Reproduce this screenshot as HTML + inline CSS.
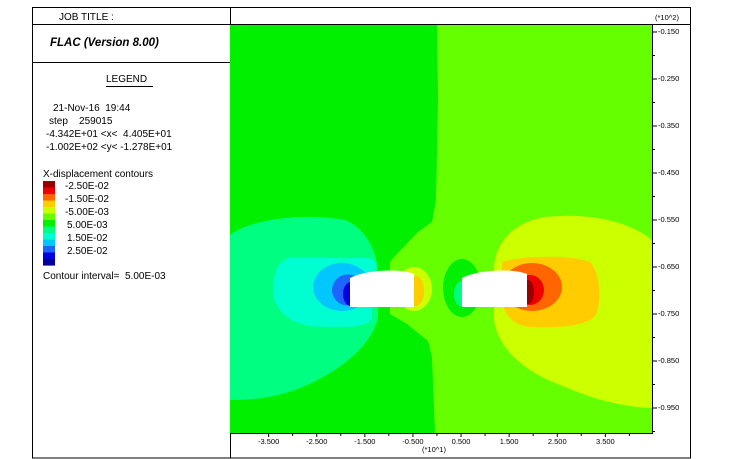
<!DOCTYPE html>
<html><head><meta charset="utf-8"><style>
body{margin:0;background:#fff;width:750px;height:459px;overflow:hidden;font-family:"Liberation Sans",sans-serif}
svg{position:absolute;left:0;top:0}
text{white-space:pre}
</style></head><body>
<svg width="750" height="459" font-family="Liberation Sans, sans-serif">
<g fill="none" stroke="#000" stroke-width="1">
<rect x="32.5" y="7.5" width="658" height="450.5"/>
<line x1="32" y1="24.5" x2="690" y2="24.5"/>
<line x1="230.5" y1="7" x2="230.5" y2="458"/>
<line x1="32" y1="62.5" x2="230" y2="62.5"/>
<line x1="652.5" y1="24" x2="652.5" y2="434"/>
<line x1="230" y1="433.5" x2="653" y2="433.5"/>
</g>
<text x="59" y="20" font-size="10">JOB TITLE :</text>
<text x="50" y="46" font-size="11.5" font-weight="bold" font-style="italic">FLAC (Version 8.00)</text>
<text x="106" y="82" font-size="10">LEGEND</text>
<line x1="106" y1="86.5" x2="153" y2="86.5" stroke="#000"/>
<g font-size="10">
<text x="53" y="111" xml:space="preserve">21-Nov-16  19:44</text>
<text x="49" y="124" xml:space="preserve">step    259015</text>
<text x="46" y="137" xml:space="preserve">-4.342E+01 &lt;x&lt;  4.405E+01</text>
<text x="46" y="150" xml:space="preserve">-1.002E+02 &lt;y&lt; -1.278E+01</text>
<text x="43" y="177">X-displacement contours</text>
<text x="43" y="279" xml:space="preserve">Contour interval=  5.00E-03</text>
</g>
<g id="cleg"></g>
<g>
<rect x="230" y="25" width="422" height="408" fill="#66ff00"/>
<path fill="#00f000" d="M230,25 L437,25 L438,100 L436,200 L432,222 L418,232 L395,256 L390,262 L390,314 L407,324 L428,341 L432,357 L435,433 L230,433 Z"/>
<path fill="#00ff80" d="M230,235 C250,220 300,212 345,220 C365,228 376,250 378,270 L378,318 C372,345 340,372 300,388 C275,398 250,400 230,400 Z"/>
<path fill="#00ffd0" d="M290,258 L370,258 C378,262 378,270 372,272 L372,318 C370,328 340,328 310,326 C285,322 273,305 273,292 C273,272 278,260 290,258 Z"/>
<ellipse cx="342" cy="287" rx="29" ry="24" fill="#00c8ff"/>
<ellipse cx="348" cy="290" rx="16" ry="15.5" fill="#1e64ff"/>
<ellipse cx="351" cy="294" rx="8" ry="12" fill="#0000e0"/>
<path fill="#ccff00" d="M652,240 C630,222 590,212 545,217 C515,222 497,240 494,265 L494,320 C497,345 520,370 560,385 C590,398 620,407 652,408 Z"/>
<path fill="#ffcc00" d="M502,262 C520,256 570,254 590,262 C600,272 602,300 596,315 C588,326 560,328 530,327 C508,324 502,310 502,295 Z"/>
<ellipse cx="532" cy="287" rx="30" ry="24" fill="#ff6600"/>
<ellipse cx="530" cy="290" rx="14" ry="15" fill="#ee0000"/>
<ellipse cx="528" cy="292" rx="6" ry="12" fill="#990000"/>
<ellipse cx="414" cy="289" rx="18" ry="22" fill="#ccff00"/>
<ellipse cx="416" cy="291" rx="8" ry="15" fill="#ffcc00"/>
<ellipse cx="462" cy="288" rx="19" ry="29" fill="#00f000"/>
<ellipse cx="462" cy="294" rx="8" ry="13" fill="#00ff80"/>
<path fill="#fff" d="M350,278 C365,270 400,268 414,274 L414,307 L350,307 Z"/>
<path fill="#fff" d="M462,278 C477,270 512,268 527,274 L527,307 L462,307 Z"/>
</g>
<g id="axes" font-size="7.5"></g>
<text x="422" y="452" font-size="7.5">(*10^1)</text>
<text x="655" y="20" font-size="7.5">(*10^2)</text>
</svg>
<script>
const xTicks=[-3.5,-2.5,-1.5,-0.5,0.5,1.5,2.5,3.5];
const xTickLabels=["-3.500","-2.500","-1.500","-0.500","0.500","1.500","2.500","3.500"];
const yTicks=[-0.15,-0.25,-0.35,-0.45,-0.55,-0.65,-0.75,-0.85,-0.95];
const yTickLabels=["-0.150","-0.250","-0.350","-0.450","-0.550","-0.650","-0.750","-0.850","-0.950"];
const legendColors=["#990000","#ee0000","#ff6600","#ffcc00","#ccff00","#66ff00","#00f000","#00ff80","#00ffd0","#00c8ff","#1e64ff","#0000e0","#000099"];
const legendLabels=["-2.50E-02","-1.50E-02","-5.00E-03","5.00E-03","1.50E-02","2.50E-02"];
const NS="http://www.w3.org/2000/svg";
function sx(v){return 437+v*48.1;}
function sy(v){return 32+(-0.15-v)*470;}
const ax=document.getElementById('axes');
function mk(t,a,p){const e=document.createElementNS(NS,t);for(const k in a)e.setAttribute(k,a[k]);p.appendChild(e);return e;}
xTicks.forEach((v,i)=>{
 const x=sx(v);
 const l=mk('line',{x1:x,y1:433,x2:x,y2:437,stroke:'#000'},ax);
 
 
 const m=mk('line',{x1:x+24,y1:433,x2:x+24,y2:436,stroke:'#000'},ax);
 
 
 const t=mk('text',{x:x,y:444,'text-anchor':'middle'},ax);t.textContent=xTickLabels[i];
 
 
});
yTicks.forEach((v,i)=>{
 const y=sy(v);
 const l=mk('line',{x1:652,y1:y,x2:657,y2:y,stroke:'#000'},ax);
 
 
 const m=mk('line',{x1:652,y1:y+23.5,x2:655,y2:y+23.5,stroke:'#000'},ax);
 
 
 const t=mk('text',{x:658,y:y+2},ax);t.textContent=yTickLabels[i];
 
 
});
const cl=document.getElementById('cleg');
legendColors.forEach((c,i)=>{
 const r=mk('rect',{x:43,y:181+i*6.5,width:12,height:6.6,fill:c},cl);
 
 
});
legendLabels.forEach((s,i)=>{
 const t=mk('text',{x:i>=3?67:65,y:189+i*13,'font-size':10},cl);t.textContent=s;
 
 
});
</script>
</body></html>
